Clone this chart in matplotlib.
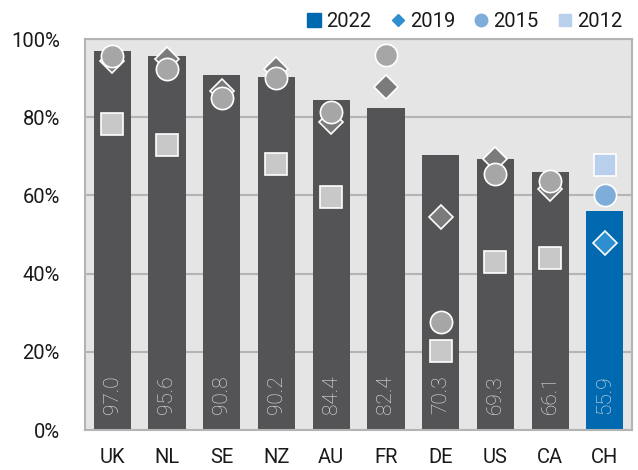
import numpy as np
import matplotlib
matplotlib.use("Agg")
import matplotlib.pyplot as plt
from matplotlib.lines import Line2D

plt.rcParams['font.family'] = ['Roboto', 'DejaVu Sans']

# data
countries = ["UK", "NL", "SE", "NZ", "AU", "FR", "DE", "US", "CA", "CH"]
v2022 = [97.0, 95.6, 90.8, 90.2, 84.4, 82.4, 70.3, 69.3, 66.1, 55.9]
v2019 = [94.5, 94.8, 86.7, 92.4, 78.7, 87.8, 54.6, 69.2, 61.7, 47.8]
v2015 = [95.7, 92.3, 84.8, 90.1, 81.4, 95.8, 27.6, 65.6, 63.6, 60.2]
v2012 = [78.3, 73.0, np.nan, 68.0, 59.5, np.nan, 20.2, 43.1, 43.9, 67.9]
yticks = [0, 20, 40, 60, 80, 100]

# colours: grey for the others, blue for Switzerland
bar_grey = "#545456"
grey_2019, grey_2015, grey_2012 = "#7b7b7b", "#a6a6a6", "#c8c8c8"
blue_2022, blue_2019, blue_2015, blue_2012 = "#0069b0", "#2e8fd0", "#7fadda", "#b8d0ec"
highlight = "CH"

fig = plt.figure(figsize=(6.38, 4.70), dpi=100)
ax = fig.add_axes([0.133, 0.085, 0.858, 0.832])
ax.set_facecolor("#e5e5e5")

x = np.arange(len(countries))
bar_cols = [blue_2022 if c == highlight else bar_grey for c in countries]
ax.bar(x, v2022, width=0.68, color=bar_cols, zorder=2)

for xi, val in zip(x, v2022):
    ax.text(xi, 4.0, f"{val:.1f}", rotation=90, ha="center", va="bottom",
            color="#e6e6e6", fontsize=15, fontweight="light", zorder=5)

# markers: 2012 squares, 2019 diamonds, 2015 circles on top
for i, c in enumerate(countries):
    hl = c == highlight
    ax.plot(x[i], v2012[i], marker="s", markersize=15.5, linestyle="none",
            color=blue_2012 if hl else grey_2012, markeredgecolor="white",
            markeredgewidth=1.2, zorder=3)
    ax.plot(x[i], v2019[i], marker="D", markersize=12.5, linestyle="none",
            color=blue_2019 if hl else grey_2019, markeredgecolor="white",
            markeredgewidth=1.2, zorder=4)
    ax.plot(x[i], v2015[i], marker="o", markersize=16, linestyle="none",
            color=blue_2015 if hl else grey_2015, markeredgecolor="white",
            markeredgewidth=1.2, zorder=5)

ax.set_xlim(-0.5, len(countries) - 0.5)
ax.set_ylim(0, 100)
ax.set_yticks(yticks)
ax.set_yticklabels([f"{t}%" for t in yticks])
ax.set_xticks(x)
ax.set_xticklabels(countries)
ax.tick_params(length=0, labelsize=14.5, colors="#1a1a1a")
ax.tick_params(axis="x", pad=13)
ax.tick_params(axis="y", pad=18)
ax.yaxis.grid(True, color="#b4b4b4", linewidth=1.5, zorder=1)
ax.set_axisbelow(True)
for s in ax.spines.values():
    s.set_color("#b4b4b4")
    s.set_linewidth(1.5)

handles = [
    Line2D([], [], marker="s", color=blue_2022, linestyle="none", markersize=10),
    Line2D([], [], marker="D", color=blue_2019, linestyle="none", markersize=6.5),
    Line2D([], [], marker="o", color=blue_2015, linestyle="none", markersize=9),
    Line2D([], [], marker="s", color=blue_2012, linestyle="none", markersize=9),
]
leg = ax.legend(handles, ["2022", "2019", "2015", "2012"], ncol=4, frameon=False,
                loc="lower right", bbox_to_anchor=(1.0, 0.995), fontsize=14.5,
                handletextpad=0.1, columnspacing=0.8, handlelength=1.0,
                borderaxespad=0.1)
for t in leg.get_texts():
    t.set_color("#1a1a1a")

fig.savefig("out.png", dpi=100)
